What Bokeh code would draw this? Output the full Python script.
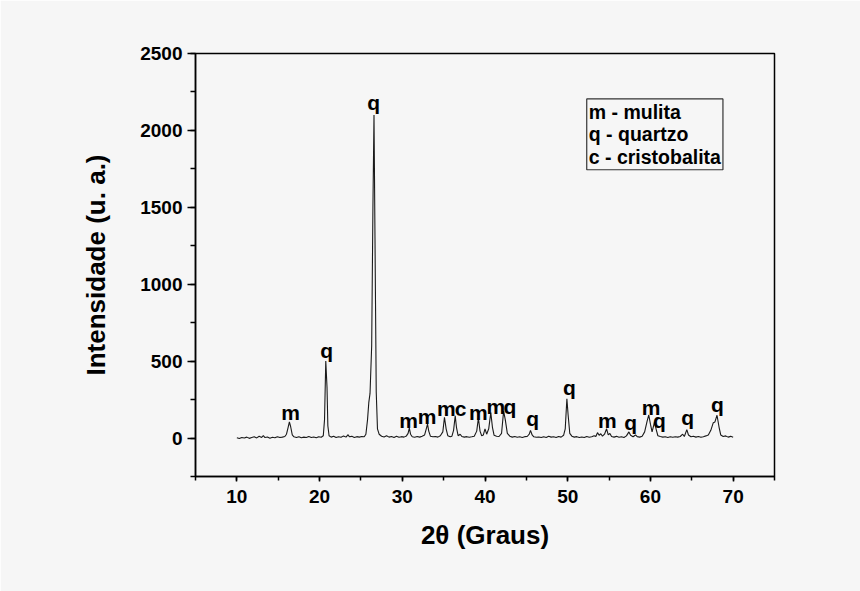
from bokeh.plotting import figure
from bokeh.models import SingleIntervalTicker, Label, Range1d
from bokeh.core.properties import value
from bokeh.embed import file_html
from bokeh.resources import INLINE

two_theta = [10.0, 10.3, 10.6, 10.9, 11.2, 11.5, 11.8, 12.1, 12.4, 12.7, 13.0, 13.2, 13.4, 13.7, 14.0,
             14.3, 14.6, 14.9, 15.2, 15.5, 15.8, 16.0, 16.2, 16.35, 16.5, 16.7, 16.9, 17.2, 17.5, 17.8,
             18.1, 18.4, 18.7, 19.0, 19.3, 19.6, 19.9, 20.2, 20.45, 20.6, 20.75, 20.9, 21.0, 21.15, 21.4,
             21.7, 22.0, 22.3, 22.6, 22.9, 23.2, 23.45, 23.6, 23.9, 24.2, 24.5, 24.8, 25.1, 25.4, 25.6,
             25.8, 25.95, 26.1, 26.3, 26.45, 26.58, 26.7, 26.85, 27.0, 27.2, 27.5, 27.8, 28.1, 28.4, 28.7,
             29.0, 29.3, 29.6, 29.9, 30.2, 30.5, 30.7, 30.85, 31.0, 31.2, 31.5, 31.8, 32.1, 32.4, 32.7,
             32.9, 33.05, 33.2, 33.4, 33.7, 34.0, 34.3, 34.6, 34.9, 35.1, 35.3, 35.5, 35.8, 36.0, 36.2,
             36.4, 36.55, 36.75, 37.0, 37.2, 37.5, 37.8, 38.1, 38.4, 38.7, 39.0, 39.2, 39.4, 39.6, 39.8,
             40.0, 40.2, 40.45, 40.7, 40.9, 41.1, 41.4, 41.7, 42.0, 42.25, 42.45, 42.7, 43.0, 43.3, 43.6,
             43.9, 44.2, 44.5, 44.8, 45.1, 45.35, 45.5, 45.7, 45.9, 46.2, 46.5, 46.8, 47.1, 47.4, 47.7,
             48.0, 48.3, 48.6, 48.9, 49.2, 49.5, 49.7, 49.9, 50.05, 50.25, 50.5, 50.8, 51.1, 51.4, 51.7,
             52.0, 52.3, 52.6, 52.9, 53.2, 53.4, 53.6, 53.8, 54.0, 54.2, 54.45, 54.7, 54.9, 55.1, 55.3,
             55.6, 55.9, 56.2, 56.5, 56.8, 57.1, 57.4, 57.6, 57.9, 58.2, 58.4, 58.7, 59.0, 59.3, 59.6,
             59.8, 60.0, 60.2, 60.5, 60.7, 60.9, 61.2, 61.5, 61.8, 62.1, 62.4, 62.7, 63.0, 63.3, 63.6,
             63.9, 64.1, 64.4, 64.6, 64.9, 65.2, 65.5, 65.8, 66.1, 66.4, 66.7, 67.0, 67.3, 67.6, 67.8,
             68.05, 68.3, 68.5, 68.8, 69.1, 69.4, 69.7, 70.0]
intensity = [2, -3, 4, 0, 6, -2, 3, 8, 1, 12, 4, 15, 3, 7, -1,
             5, 2, 9, 3, 6, 10, 25, 70, 105, 75, 20, 8, 4, 9, 2,
             6, 3, 10, 4, 7, 2, 8, 5, 15, 120, 500, 330, 80, 15, 6,
             12, 3, 9, 5, 14, 6, 22, 8, 11, 4, 9, 6, 10, 8, 25,
             120, 230, 290, 600, 1500, 2100, 1300, 300, 60, 25, 12, 7, 15, 6, 10,
             4, 12, 5, 9, 6, 14, 30, 65, 25, 8, 5, 10, 6, 12, 20,
             60, 90, 45, 12, 8, 10, 6, 15, 40, 135, 60, 15, 8, 12, 50,
             145, 70, 15, 25, 10, 6, 9, 5, 8, 12, 45, 130, 45, 15, 20,
             60, 25, 60, 165, 70, 18, 12, 10, 30, 175, 120, 30, 12, 6, 10,
             5, 8, 4, 9, 10, 25, 50, 20, 8, 5, 7, 3, 9, 4, 12,
             6, 8, 3, 10, 6, 18, 60, 255, 150, 30, 12, 6, 9, 4, 7,
             3, 10, 5, 8, 15, 10, 35, 18, 28, 12, 25, 60, 20, 30, 10,
             6, 11, 5, 9, 4, 14, 40, 18, 8, 20, 9, 6, 12, 40, 110,
             150, 90, 40, 105, 55, 15, 10, 6, 8, 4, 9, 5, 8, 6, 10,
             25, 10, 55, 20, 8, 12, 6, 10, 5, 9, 14, 20, 50, 100, 105,
             148, 70, 20, 10, 14, 6, 11, 5]

peak_labels = ["m", "q", "q", "m", "m", "m", "c", "m", "m", "q", "q", "q", "m", "q", "m", "q", "q", "q"]
label_x = [16.5, 20.87, 26.55, 30.75, 33.0, 35.33, 37.05, 39.2, 41.3, 43.0, 45.75, 50.2, 54.8, 57.6, 60.08, 61.1, 64.5, 68.1]
label_y = [169, 566, 2181, 111, 137, 189, 189, 169, 202, 202, 124, 328, 117, 104, 197, 115, 132, 221]

legend_text = "m - mulita\nq - quartzo\nc - cristobalita"

BG = "#f6f6f6"
FONT = "Liberation Sans"

p = figure(width=860, height=591, output_backend="svg", toolbar_location=None,
           x_range=Range1d(5, 75), y_range=Range1d(-250, 2500),
           min_border_left=195, min_border_right=86, min_border_top=53, min_border_bottom=115,
           background_fill_color=BG, border_fill_color=BG)

p.line(two_theta, intensity, line_color="#1a1a1a", line_width=1.1)

p.text(x=label_x, y=label_y, text=peak_labels, text_align="center", text_baseline="middle",
       text_font=value(FONT), text_font_size="21px", text_font_style="bold", text_color="black")

p.add_layout(Label(x=52.3, y=2205, text=legend_text, text_baseline="top", text_align="left",
                   text_font=FONT, text_font_size="19.5px", text_font_style="bold",
                   text_line_height=1.02, text_color="black",
                   border_line_color="#333333", border_line_width=1.2, padding=2))

p.grid.visible = False
p.outline_line_color = "black"
p.outline_line_width = 1.5

p.xaxis.ticker = SingleIntervalTicker(interval=10, num_minor_ticks=2)
p.yaxis.ticker = SingleIntervalTicker(interval=500, num_minor_ticks=2)

for ax in (p.xaxis[0], p.yaxis[0]):
    ax.axis_line_color = "black"
    ax.axis_line_width = 1.5
    ax.major_tick_line_color = "black"
    ax.minor_tick_line_color = "black"
    ax.major_tick_line_width = 1.5
    ax.minor_tick_line_width = 1.5
    ax.major_tick_in = 0
    ax.minor_tick_in = 0
    ax.major_label_text_font = FONT
    ax.major_label_text_font_size = "19px"
    ax.major_label_text_font_style = "bold"
    ax.major_label_text_color = "black"
    ax.axis_label_text_font = FONT
    ax.axis_label_text_font_size = "26px"
    ax.axis_label_text_font_style = "bold"
    ax.axis_label_text_color = "black"

p.xaxis.axis_label = "2θ (Graus)"
p.xaxis.major_tick_out = 5
p.xaxis.minor_tick_out = 4
p.xaxis.major_label_standoff = 8
p.xaxis.axis_label_standoff = 14

p.yaxis.axis_label = "Intensidade (u. a.)"
p.yaxis.major_tick_out = 8
p.yaxis.minor_tick_out = 5
p.yaxis.major_label_standoff = 5
p.yaxis.axis_label_standoff = 26

open("out.html", "w").write(file_html(p, INLINE))
